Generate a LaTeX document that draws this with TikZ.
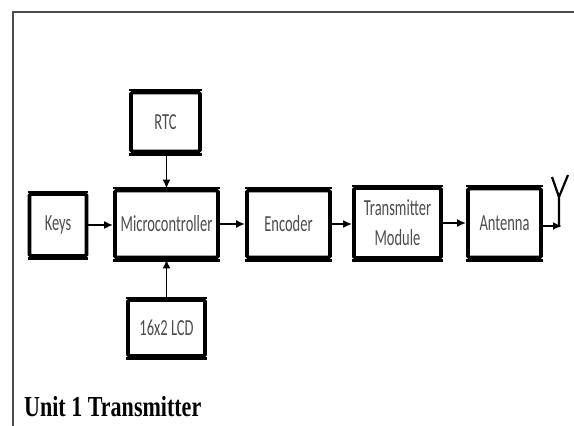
\documentclass[tikz,border=0pt]{standalone}
\usepackage{fontspec}
\usepackage{tikz}
\usetikzlibrary{arrows.meta}
\newfontfamily\boxfont[FakeStretch=0.63]{Carlito}
\newfontfamily\titlefont[FakeStretch=0.76]{Liberation Serif}

\begin{document}
\begin{tikzpicture}[x=1pt, y=-1pt, >={Latex[length=9pt,width=8pt]},
    rim/.style={draw, line cap=butt},
    blk/.style={draw, line width=3.8pt, rounded corners=1.5pt, align=center, inner sep=0pt,
      text=black!70, font=\boxfont\fontsize{23}{30}\selectfont,
      append after command={([yshift=-1pt]\tikzlastnode.south west) edge[rim, line width=3pt]
        ([yshift=-1pt]\tikzlastnode.south east)
        ([yshift=0.5pt]\tikzlastnode.north west) edge[rim, line width=2pt]
        ([yshift=0.5pt]\tikzlastnode.north east)}},
    link/.style={->, line width=2.4pt}]
    \useasboundingbox (0,0) rectangle (574,426);
    % frame
    \draw[line width=2pt, black!70] (13,426) -- (13,12) -- (574,12);
    \node[blk, minimum width=57pt, minimum height=62pt] (keys) at (58,225) {Keys};
    \node[blk, minimum width=103pt, minimum height=67pt] (mcu) at (166.5,224) {Microcontroller};
    \node[blk, minimum width=83pt, minimum height=67pt] (enc) at (288.5,224) {Encoder};
    \node[blk, minimum width=87pt, minimum height=70pt] (tx) at (397.5,223) {Transmitter\\Module};
    \node[blk, minimum width=73pt, minimum height=69pt] (ant) at (504.5,223) {Antenna};
    \node[blk, minimum width=69pt, minimum height=59pt] (rtc) at (165.5,122) {RTC};
    \node[blk, minimum width=77pt, minimum height=56pt] (lcd) at (166.5,328) {16x2 LCD};
    \coordinate (aerial) at (562,226);
    \draw[link] (keys.east) -- (keys.east -| mcu.west);
    \draw[link] (mcu.east) -- (mcu.east -| enc.west);
    \draw[link] (enc.east) -- (enc.east -| tx.west);
    \draw[link] (tx.east) -- (tx.east -| ant.west);
    \draw[link] (ant.east |- aerial) -- (aerial);
    \draw[->, line width=1.8pt] (rtc.south -| mcu.north) -- (mcu.north);
    \draw[->, line width=1.8pt] (lcd.north -| mcu.south) -- (mcu.south);
    % aerial symbol
    \draw[line width=2.2pt, line join=round] (aerial) ++(-3,1) -- ++(0,-30) -- ++(-7,-20)
      ++(7,20) -- ++(9,-22);
    \node[anchor=base west, inner sep=0pt, font=\titlefont\bfseries\fontsize{29}{32}\selectfont] (title)
      at (24,416) {Unit 1 Transmitter};
  \end{tikzpicture}
\end{document}
